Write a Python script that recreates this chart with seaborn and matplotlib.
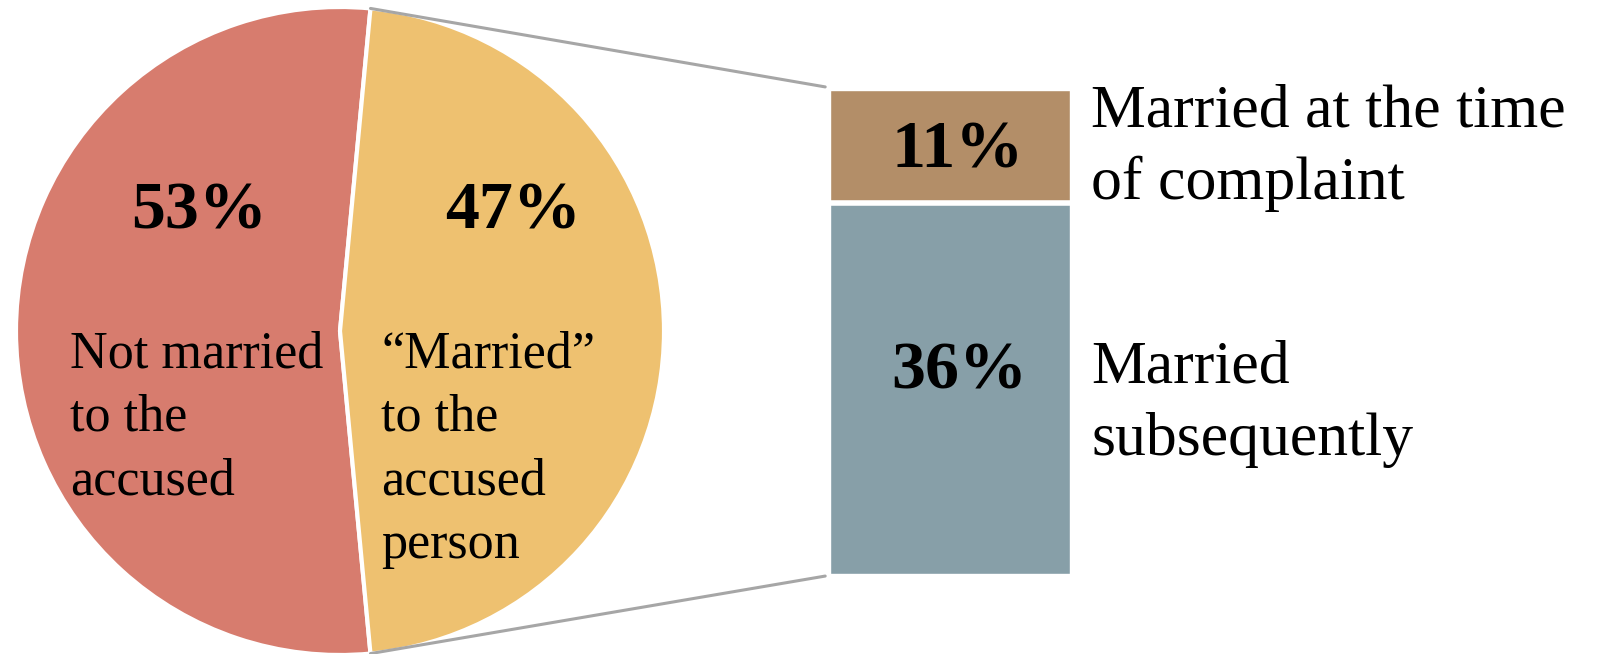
import matplotlib
matplotlib.use("Agg")
import matplotlib.pyplot as plt
from matplotlib.patches import ConnectionPatch
import numpy as np
import seaborn as sns

# 데이터
pie_labels = ["Not married\nto the\naccused", "\u201cMarried\u201d\nto the\naccused\nperson"]
pie_values = [53, 47]
bar_labels = ["Married at the time\nof complaint", "Married\nsubsequently"]
bar_values = [11, 36]   # 위: 신고 당시 기혼, 아래: 이후 결혼

pie_colors = ["#D77C6E", "#EEC170"]
bar_colors = ["#B38E68", "#879FA8"]

sns.set_style("white")
plt.rcParams['font.family'] = ['Liberation Serif', 'DejaVu Serif']
plt.rcParams['text.color'] = 'black'

W, H = 1598, 654
fig = plt.figure(figsize=(W / 100, H / 100), dpi=100)

# 픽셀 좌표계 축 (y는 위로 증가)
ax = fig.add_axes([0, 0, 1, 1])
cx, cy, r = 340, H - 331, 324
start = pie_values[1] * 360 / 200  # 노란 조각이 오른쪽 가운데 오도록
wedges, _ = ax.pie(pie_values, colors=pie_colors, startangle=start,
                   center=(cx, cy), radius=r, counterclock=True,
                   wedgeprops=dict(edgecolor="white", linewidth=3))
for w in wedges:
    w.set_zorder(3)
ax.set_xlim(0, W)
ax.set_ylim(0, H)
ax.set_aspect("equal")
ax.axis("off")

# 조각 안 텍스트
ax.text(199, H - 212, f"{pie_values[0]}%", ha="center", va="center",
        fontsize=49, fontweight="bold", zorder=5)
ax.text(513, H - 212, f"{pie_values[1]}%", ha="center", va="center",
        fontsize=49, fontweight="bold", zorder=5)
ax.text(70, H - 330, pie_labels[0], ha="left", va="top", fontsize=37.5,
        linespacing=1.42, zorder=5)
ax.text(381, H - 330, pie_labels[1], ha="left", va="top", fontsize=37.5,
        linespacing=1.42, zorder=5)

# 오른쪽 누적 막대 (seaborn)
bar_ax = fig.add_axes([830 / W, 80 / H, 240 / W, 484 / H])
total = sum(bar_values)
sns.barplot(x=[0], y=[total], color=bar_colors[0], saturation=1, width=1, ax=bar_ax)
sns.barplot(x=[0], y=[bar_values[1]], color=bar_colors[1], saturation=1, width=1, ax=bar_ax)
bar_ax.axhline(bar_values[1], color="white", linewidth=4)
bar_ax.set_xlim(-0.5, 0.5)
bar_ax.set_ylim(0, total)
bar_ax.axis("off")

bar_ax.text(0.03, bar_values[1] + bar_values[0] / 2 - 0.4, f"{bar_values[0]}%",
            ha="center", va="center", fontsize=49, fontweight="bold")
bar_ax.text(0.04, bar_values[1] / 2 + 1.6, f"{bar_values[1]}%",
            ha="center", va="center", fontsize=49, fontweight="bold")

ax.text(1091, H - 148, bar_labels[0], ha="left", va="center", fontsize=44.5, linespacing=1.38)
ax.text(1091, H - 404, bar_labels[1], ha="left", va="center", fontsize=44.5, linespacing=1.38)

# 연결선
t1 = np.deg2rad(start)
t2 = np.deg2rad(-start)
for ang, yb in [(t1, total), (t2, 0)]:
    p = (cx + r * np.cos(ang), cy + r * np.sin(ang))
    con = ConnectionPatch(xyA=p, coordsA=ax.transData,
                          xyB=(-0.52, yb + (0.3 if yb else -0.2)), coordsB=bar_ax.transData,
                          color="#A6A6A6", linewidth=2.2, zorder=1)
    fig.add_artist(con)

fig.savefig("out.png", dpi=100, facecolor="white")
